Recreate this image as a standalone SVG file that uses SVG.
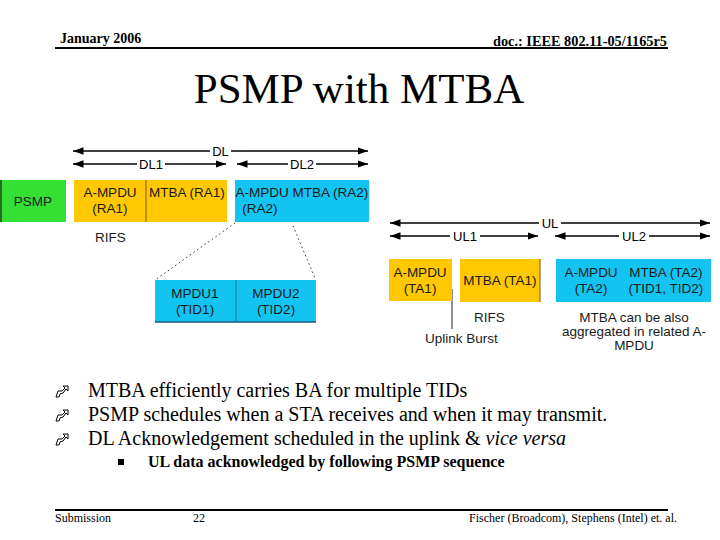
<svg xmlns="http://www.w3.org/2000/svg" width="720" height="540" viewBox="0 0 720 540">
<defs>
<marker id="ah" viewBox="0 0 10 10" refX="10" refY="5" markerWidth="7" markerHeight="7" orient="auto-start-reverse" markerUnits="strokeWidth">
<path d="M0,1.5 L10,5 L0,8.5 z" fill="#000"/>
</marker>
<style>
.hdr{font-family:"Liberation Serif","Times New Roman",serif;font-weight:bold;font-size:14px;fill:#000}
.title{font-family:"Liberation Serif","Times New Roman",serif;font-size:43px;fill:#000}
.lbl{font-family:"Liberation Sans",Arial,sans-serif;font-size:13.5px;fill:#1a1a1a}
.alb{font-family:"Liberation Sans",Arial,sans-serif;font-size:13px;fill:#000}
.bul{font-family:"Liberation Serif","Times New Roman",serif;font-size:20px;fill:#000}
.sub{font-family:"Liberation Serif","Times New Roman",serif;font-size:16px;font-weight:bold;fill:#000}
.ftr{font-family:"Liberation Serif","Times New Roman",serif;font-size:12px;fill:#000}
.arr{stroke:#000;stroke-width:1.5;fill:none;marker-start:url(#ah);marker-end:url(#ah)}
.yel{fill:#ffc800}
.blu{fill:#14c4f0}
.grn{fill:#33e033}
.dot{stroke:#333;stroke-width:1;stroke-dasharray:1.5,3;fill:none}
.bg{fill:#fff}
.bsym{fill:none;stroke:#000;stroke-width:1}
</style>
</defs>
<rect width="720" height="540" fill="#fff"/>

<g id="header">
<text class="hdr" x="60" y="43">January 2006</text>
<text class="hdr" x="667" y="46" text-anchor="end" textLength="174" lengthAdjust="spacingAndGlyphs">doc.: IEEE 802.11-05/1165r5</text>
<line x1="55" y1="48" x2="668" y2="48" stroke="#000" stroke-width="2"/>
</g>
<text class="title" x="359" y="103" text-anchor="middle">PSMP with MTBA</text>

<g id="connectors">
<line class="arr" x1="73" y1="151" x2="368" y2="151"/>
<line class="arr" x1="73" y1="164" x2="226" y2="164"/>
<line class="arr" x1="237" y1="164" x2="368" y2="164"/>
<line class="arr" x1="390" y1="223" x2="710" y2="223"/>
<line class="arr" x1="390" y1="236" x2="538" y2="236"/>
<line class="arr" x1="555" y1="236" x2="710" y2="236"/>
<line class="dot" x1="235" y1="223" x2="155" y2="280"/>
<line class="dot" x1="293" y1="226" x2="315" y2="278"/>
<line x1="452" y1="289" x2="452" y2="329" stroke="#222" stroke-width="1"/>
</g>

<g id="arrow-labels">
<rect class="bg" x="210" y="144" width="21" height="14"/>
<text class="alb" x="220.5" y="156" text-anchor="middle">DL</text>
<rect class="bg" x="137" y="157" width="28" height="14"/>
<text class="alb" x="151" y="169" text-anchor="middle">DL1</text>
<rect class="bg" x="288" y="157" width="28" height="14"/>
<text class="alb" x="302" y="169" text-anchor="middle">DL2</text>
<rect class="bg" x="539" y="216" width="22" height="14"/>
<text class="alb" x="550" y="228" text-anchor="middle">UL</text>
<rect class="bg" x="450" y="229" width="30" height="14"/>
<text class="alb" x="465" y="241" text-anchor="middle">UL1</text>
<rect class="bg" x="619" y="229" width="30" height="14"/>
<text class="alb" x="634" y="241" text-anchor="middle">UL2</text>
</g>

<g id="psmp">
<rect class="grn" x="0" y="180" width="66" height="42"/>
<line x1="1" y1="180" x2="1" y2="222" stroke="#1a4d1a" stroke-width="1.5"/>
<text class="lbl" x="33" y="206" text-anchor="middle">PSMP</text>
</g>

<g id="dl1">
<rect class="yel" x="74" y="180" width="153" height="42"/>
<line x1="146" y1="180" x2="146" y2="222" stroke="#7a5a10" stroke-width="1"/>
<text class="lbl" x="110" y="197" text-anchor="middle">A-MPDU</text>
<text class="lbl" x="110" y="213" text-anchor="middle">(RA1)</text>
<text class="lbl" x="187" y="197" text-anchor="middle">MTBA (RA1)</text>
</g>

<g id="dl2">
<rect class="blu" x="235" y="180" width="134" height="42"/>
<text class="lbl" x="302" y="197" text-anchor="middle">A-MPDU MTBA (RA2)</text>
<text class="lbl" x="260" y="213" text-anchor="middle">(RA2)</text>
</g>

<g id="rifs-dl">
<text class="lbl" x="95" y="242">RIFS</text>
</g>

<g id="mpdu">
<rect class="blu" x="155" y="280" width="161" height="42"/>
<line x1="236" y1="280" x2="236" y2="322" stroke="#1a7aa0" stroke-width="1"/>
<line x1="155" y1="322" x2="316" y2="322" stroke="#1a5a80" stroke-width="1.5"/>
<text class="lbl" x="195" y="298" text-anchor="middle">MPDU1</text>
<text class="lbl" x="195" y="314" text-anchor="middle">(TID1)</text>
<text class="lbl" x="276" y="298" text-anchor="middle">MPDU2</text>
<text class="lbl" x="276" y="314" text-anchor="middle">(TID2)</text>
</g>

<g id="ul-ampdu">
<rect class="yel" x="389" y="259" width="63" height="42"/>
<text class="lbl" x="420" y="277" text-anchor="middle">A-MPDU</text>
<text class="lbl" x="420" y="293" text-anchor="middle">(TA1)</text>
</g>

<g id="ul-mtba">
<rect class="yel" x="460" y="259" width="80" height="43"/>
<line x1="540" y1="259" x2="540" y2="302" stroke="#7a5a10" stroke-width="1"/>
<text class="lbl" x="500" y="285" text-anchor="middle">MTBA (TA1)</text>
</g>

<g id="ul2">
<rect class="blu" x="556" y="259" width="155" height="43"/>
<text class="lbl" x="591" y="277" text-anchor="middle">A-MPDU</text>
<text class="lbl" x="591" y="293" text-anchor="middle">(TA2)</text>
<text class="lbl" x="666" y="277" text-anchor="middle">MTBA (TA2)</text>
<text class="lbl" x="666" y="293" text-anchor="middle">(TID1, TID2)</text>
</g>

<g id="ul-notes">
<text class="lbl" x="474" y="322">RIFS</text>
<text class="lbl" x="425" y="343">Uplink Burst</text>
<text class="lbl" x="634" y="322" text-anchor="middle">MTBA can be also</text>
<text class="lbl" x="634" y="336" text-anchor="middle">aggregated in related A-</text>
<text class="lbl" x="634" y="350" text-anchor="middle">MPDU</text>
</g>

<g id="bullets">
<path class="bsym" transform="translate(55,385)" d="M1,12 L3,6 L7,6 L10,3 L8,1 L13,1 L13,6 L11,4 L8,8 L5,9 L4,12 Z"/>
<path class="bsym" transform="translate(55,409)" d="M1,12 L3,6 L7,6 L10,3 L8,1 L13,1 L13,6 L11,4 L8,8 L5,9 L4,12 Z"/>
<path class="bsym" transform="translate(55,433)" d="M1,12 L3,6 L7,6 L10,3 L8,1 L13,1 L13,6 L11,4 L8,8 L5,9 L4,12 Z"/>
<text class="bul" x="88" y="397">MTBA efficiently carries BA for multiple TIDs</text>
<text class="bul" x="88" y="421">PSMP schedules when a STA receives and when it may transmit.</text>
<text class="bul" x="88" y="445">DL Acknowledgement scheduled in the uplink &amp; <tspan font-style="italic">vice versa</tspan></text>
<rect x="118" y="459" width="6" height="6" fill="#000"/>
<text class="sub" x="148" y="467">UL data acknowledged by following PSMP sequence</text>
</g>

<g id="footer">
<line x1="55" y1="510" x2="668" y2="510" stroke="#000" stroke-width="2"/>
<text class="ftr" x="55" y="522">Submission</text>
<text class="ftr" x="193" y="522">22</text>
<text class="ftr" x="677" y="522" text-anchor="end">Fischer (Broadcom), Stephens (Intel) et. al.</text>
</g>
</svg>
